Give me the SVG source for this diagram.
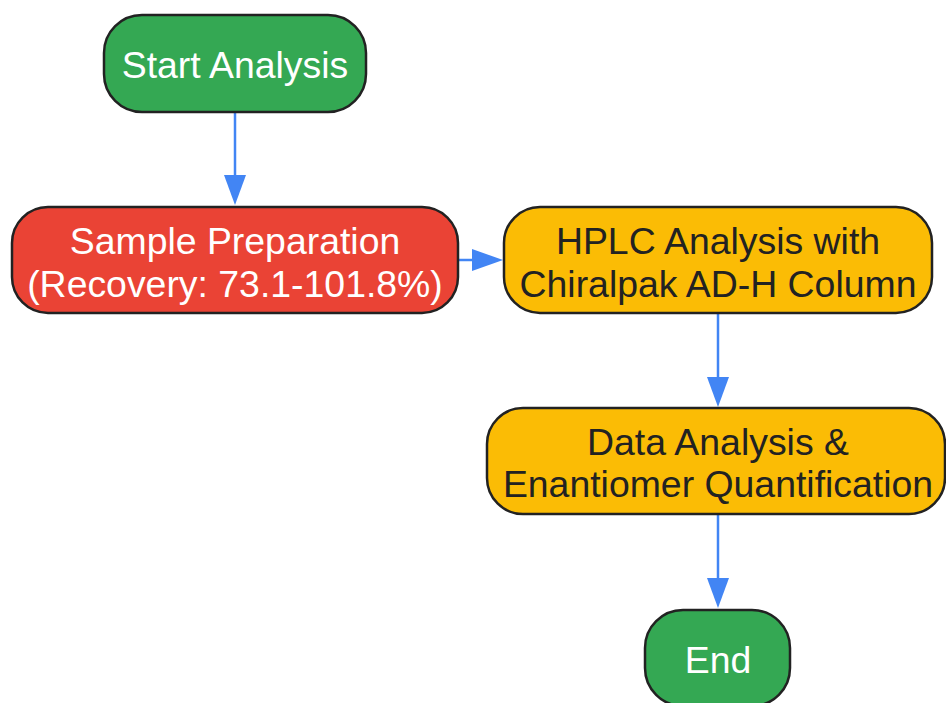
<svg xmlns="http://www.w3.org/2000/svg" width="946" height="703" viewBox="0 0 946 703">
<defs>
<style>
.n{stroke:#222;stroke-width:2.5}
.g{fill:#34A853}.r{fill:#EA4335}.y{fill:#FBBC05}
.t{font-family:"Liberation Sans",Arial,sans-serif;font-size:37.4px;text-anchor:middle}
.w{fill:#fff}.d{fill:#222}
.e{stroke:#4285F4;stroke-width:2.5;fill:none}
.h{fill:#4285F4}
</style>
</defs>
<rect width="946" height="703" fill="#fff"/>
<g id="connectors">
<path class="e" d="M235,112 V175"/><path class="h" d="M224,175 L246,175 L235,205 z"/>
<path class="e" d="M458,260 H472"/><path class="h" d="M472,249 L472,271 L503,260 z"/>
<path class="e" d="M718,314 V377"/><path class="h" d="M707,377 L729,377 L718,407 z"/>
<path class="e" d="M718,515 V578"/><path class="h" d="M707,578 L729,578 L718,608 z"/>
</g>
<g id="start">
<rect class="n g" x="104" y="15" width="262" height="97" rx="38"/>
<text class="t w" x="235" y="78">Start Analysis</text>
</g>
<g id="sample">
<rect class="n r" x="12" y="207" width="446" height="106" rx="36"/>
<text class="t w" x="235" y="254">Sample Preparation</text>
<text class="t w" x="235" y="297">(Recovery: 73.1-101.8%)</text>
</g>
<g id="hplc">
<rect class="n y" x="504" y="207" width="428" height="106" rx="36"/>
<text class="t d" x="718" y="254">HPLC Analysis with</text>
<text class="t d" x="718" y="297">Chiralpak AD-H Column</text>
</g>
<g id="data">
<rect class="n y" x="487" y="408" width="458" height="106" rx="36"/>
<text class="t d" x="718" y="455">Data Analysis &amp;</text>
<text class="t d" x="718" y="497">Enantiomer Quantification</text>
</g>
<g id="end">
<rect class="n g" x="645" y="610" width="145" height="96" rx="38"/>
<text class="t w" x="718" y="673">End</text>
</g>
</svg>
